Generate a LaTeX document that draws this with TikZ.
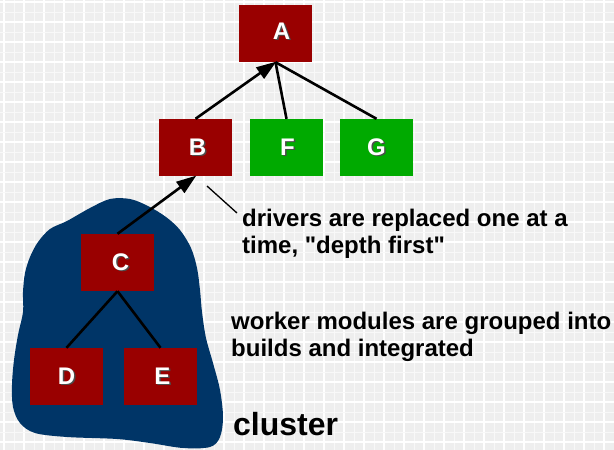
\documentclass[tikz,border=0pt]{standalone}
\usepackage{fontspec}
\setmainfont{Liberation Sans}[Ligatures=TeXOff]
\usetikzlibrary{arrows.meta}
\definecolor{boxred}{RGB}{153,0,0}
\definecolor{boxgreen}{RGB}{0,170,0}
\definecolor{blobblue}{RGB}{0,53,103}
\definecolor{bggray}{RGB}{238,238,238}
\newcommand\shlabel[1]{\leavevmode\rlap{\kern1.5pt\raisebox{-1.5pt}{\color{black!70}#1}}{\color{white}#1}}
\tikzset{
  modbox/.style={rectangle, inner sep=0pt, minimum width=73pt, minimum height=57pt,
    font=\bfseries\fontsize{24}{26}\selectfont},
  redbox/.style={modbox, fill=boxred},
  greenbox/.style={modbox, fill=boxgreen},
  link/.style={line width=2.6pt, black},
  linkarrow/.style={link, -{Triangle[length=20pt,width=13.5pt]}, shorten >=-1pt},
  callout/.style={line width=1.3pt, black},
  note/.style={anchor=base west, align=left, inner sep=0pt,
    font=\bfseries\fontsize{24}{26.5}\selectfont},
}
\begin{document}
\begin{tikzpicture}[x=1pt,y=-1pt]
\useasboundingbox (0,0) rectangle (614,450);
% background
\fill[bggray] (0,0) rectangle (614,450);
\foreach \x in {4,24,...,614} \draw[white, line width=1.2pt] (\x,0) -- (\x,450);
\foreach \x in {14,34,...,614} \draw[white!60!bggray, line width=0.8pt] (\x,0) -- (\x,450);
\foreach \y in {2,22,...,450} \draw[white, line width=1.2pt] (0,\y) -- (614,\y);
\foreach \y in {12,32,...,450} \draw[white!60!bggray, line width=0.8pt] (0,\y) -- (614,\y);
% cluster blob
\fill[blobblue] plot[smooth cycle, tension=0.55] coordinates {
 (110,199) (90,208) (67,221) (50,229) (38,242) (30,257) (25,273) (23,292)
 (23,312) (18,335) (14,360) (12,385) (13,407) (20,423) (35,433) (67,437)
 (117,439) (150,443) (183,448) (210,447) (220,437) (223,417) (220,390)
 (213,363) (206,338) (202,312) (200,290) (197,268) (191,248) (180,230)
 (166,217) (148,206) (130,199)};
% modules
\node[redbox]   (A) at (275.5,33.5) {\raisebox{5pt}{\hspace{12pt}\shlabel{A}}};
\node[redbox]   (B) at (195.5,147.5) {\hspace{4pt}\shlabel{B}};
\node[greenbox] (F) at (286.5,147.5) {\hspace{2pt}\shlabel{F}};
\node[greenbox] (G) at (376.5,147.5) {\shlabel{G}};
\node[redbox]   (C) at (117.5,262.5) {\hspace{6pt}\shlabel{C}};
\node[redbox]   (D) at (66.5,376.5) {\shlabel{D}};
\node[redbox]   (E) at (160.5,376.5) {\hspace{4pt}\shlabel{E}};
% connectors
\draw[linkarrow] (B.north) -- (A.south);
\draw[link] (F.north) -- (A.south);
\draw[link] (G.north) -- (A.south);
\draw[linkarrow] (C.north) -- (B.south);
\draw[link] (C.south) -- (D.north);
\draw[link] (C.south) -- (E.north);
% callout
\coordinate (cs) at (207,186);
\coordinate (ce) at (237,213);
\draw[callout] (cs) -- (ce);
% notes (base anchor = baseline of the last line)
\node[note] (n1) at (242,253) {drivers are replaced one at a\\time, "depth first"};
\node[note] (n2) at (231,356) {worker modules are grouped into\\builds and integrated};
\node[anchor=base west, inner sep=0pt, font=\bfseries\fontsize{32}{36}\selectfont] (n3) at (233,435) {cluster};
\end{tikzpicture}
\end{document}
